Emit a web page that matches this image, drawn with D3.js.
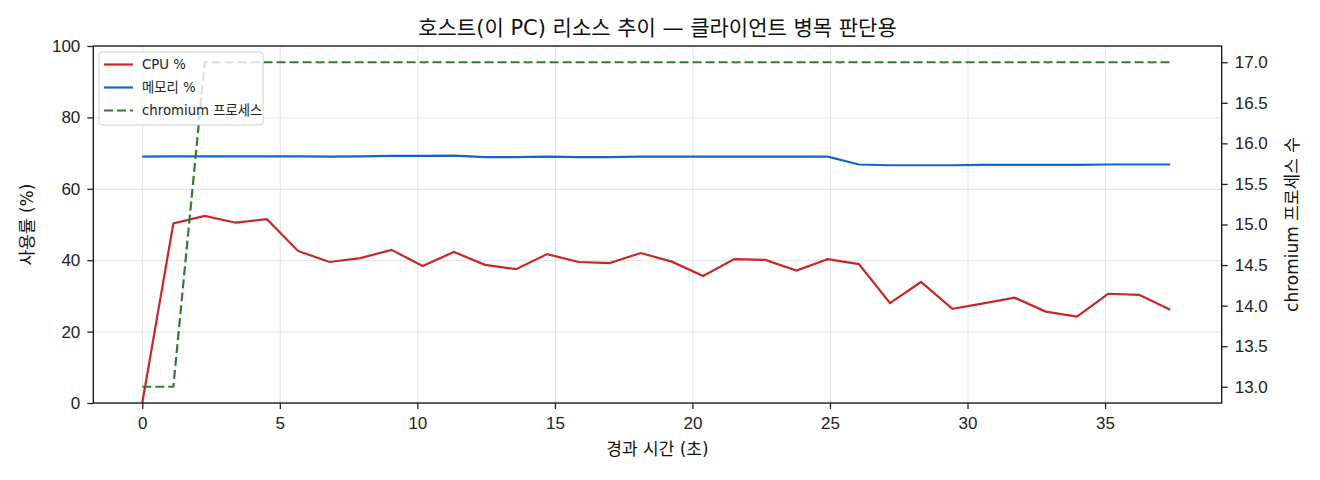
<!DOCTYPE html>
<html>
<head>
<meta charset="utf-8">
<script src="https://d3js.org/d3.v7.min.js"></script>
<style>
body { margin: 0; background: #fff; }
svg { display: block; font-family: "DejaVu Sans", "Noto Sans CJK KR", sans-serif; }
.tick text { font-size: 17px; fill: #222; }
.tick line { stroke: #222; stroke-width: 1.3; }
.domain { stroke: none; }
.grid line { stroke: #e2e2e2; stroke-width: 1; }
.grid .domain { display: none; }
</style>
</head>
<body>
<svg width="1320" height="480"></svg>
<script>
// elapsed seconds for every sample
const times = [0, 1.13, 2.27, 3.40, 4.53, 5.66, 6.80, 7.93, 9.06, 10.19,
  11.33, 12.46, 13.59, 14.72, 15.86, 16.99, 18.12, 19.25, 20.39, 21.52,
  22.65, 23.78, 24.92, 26.05, 27.18, 28.31, 29.45, 30.58, 31.71, 32.84,
  33.98, 35.11, 36.24, 37.37];

const cpu = [0, 50.3, 52.4, 50.5, 51.5, 42.6, 39.5, 40.6, 42.9, 38.4,
  42.3, 38.7, 37.5, 41.7, 39.5, 39.2, 42.0, 39.6, 35.6, 40.3,
  40.1, 37.1, 40.3, 38.9, 28.0, 33.9, 26.4, 27.9, 29.5, 25.6,
  24.2, 30.6, 30.3, 26.1];

const memory = [69.0, 69.1, 69.1, 69.1, 69.1, 69.1, 69.0, 69.1, 69.2, 69.2,
  69.3, 68.9, 68.9, 69.0, 68.9, 68.9, 69.0, 69.0, 69.0, 69.0,
  69.0, 69.0, 69.0, 66.8, 66.6, 66.6, 66.6, 66.7, 66.7, 66.7,
  66.7, 66.8, 66.8, 66.8];

const chromium = [13, 13, 17, 17, 17, 17, 17, 17, 17, 17,
  17, 17, 17, 17, 17, 17, 17, 17, 17, 17,
  17, 17, 17, 17, 17, 17, 17, 17, 17, 17,
  17, 17, 17, 17];

const xTicks = [0, 5, 10, 15, 20, 25, 30, 35];
const leftTicks = [0, 20, 40, 60, 80, 100];
const rightTicks = [13.0, 13.5, 14.0, 14.5, 15.0, 15.5, 16.0, 16.5, 17.0];

const seriesNames = ['CPU %', '메모리 %', 'chromium 프로세스'];
const colors = ['#c62828', '#1565c0', '#2e7d32'];

const pLeft = 93.3, pRight = 1221.7, pTop = 46, pBottom = 403;

const svg = d3.select('svg');

const x = d3.scaleLinear().domain([-1.78, 39.24]).range([pLeft, pRight]);
const y = d3.scaleLinear().domain([0, 100]).range([pBottom, pTop]);
const y2 = d3.scaleLinear().domain([12.8, 17.2]).range([pBottom, pTop]);

// grid
svg.append('g').attr('class', 'grid')
  .attr('transform', `translate(0,${pBottom})`)
  .call(d3.axisBottom(x).tickValues(xTicks).tickSize(-(pBottom - pTop)).tickFormat(''));
svg.append('g').attr('class', 'grid')
  .attr('transform', `translate(${pLeft},0)`)
  .call(d3.axisLeft(y).tickValues(leftTicks).tickSize(-(pRight - pLeft)).tickFormat(''));

const line = (yScale, vals) => d3.line()
  .x((d, i) => x(times[i]))
  .y(d => yScale(d))(vals);

const plot = svg.append('g');
plot.append('path').attr('d', line(y, cpu))
  .attr('fill', 'none').attr('stroke', colors[0]).attr('stroke-width', 2.2);
plot.append('path').attr('d', line(y, memory))
  .attr('fill', 'none').attr('stroke', colors[1]).attr('stroke-width', 2.2);
plot.append('path').attr('d', line(y2, chromium))
  .attr('fill', 'none').attr('stroke', colors[2]).attr('stroke-width', 2.2)
  .attr('stroke-dasharray', '9,4');

// frame
svg.append('rect')
  .attr('x', pLeft).attr('y', pTop)
  .attr('width', pRight - pLeft).attr('height', pBottom - pTop)
  .attr('fill', 'none').attr('stroke', '#111').attr('stroke-width', 1.3);

// axes
svg.append('g')
  .attr('transform', `translate(0,${pBottom})`)
  .call(d3.axisBottom(x).tickValues(xTicks).tickSize(6).tickPadding(8));
svg.append('g')
  .attr('transform', `translate(${pLeft},0)`)
  .call(d3.axisLeft(y).tickValues(leftTicks).tickSize(6).tickPadding(7));
svg.append('g')
  .attr('transform', `translate(${pRight},0)`)
  .call(d3.axisRight(y2).tickValues(rightTicks).tickFormat(d3.format('.1f')).tickSize(6).tickPadding(7));

// title and labels
svg.append('text')
  .attr('x', (pLeft + pRight) / 2).attr('y', 35)
  .attr('text-anchor', 'middle').attr('font-size', 21).attr('fill', '#111')
  .text('호스트(이 PC) 리소스 추이 — 클라이언트 병목 판단용');
svg.append('text')
  .attr('x', (pLeft + pRight) / 2).attr('y', 455)
  .attr('text-anchor', 'middle').attr('font-size', 17).attr('fill', '#111')
  .text('경과 시간 (초)');
svg.append('text')
  .attr('transform', `translate(33,${(pTop + pBottom) / 2}) rotate(-90)`)
  .attr('text-anchor', 'middle').attr('font-size', 17).attr('fill', '#111')
  .text('사용률 (%)');
svg.append('text')
  .attr('transform', `translate(1298,${(pTop + pBottom) / 2}) rotate(-90)`)
  .attr('text-anchor', 'middle').attr('font-size', 17).attr('fill', '#111')
  .text('chromium 프로세스 수');

// legend
const legend = svg.append('g').attr('transform', 'translate(99,52)');
legend.append('rect')
  .attr('width', 164).attr('height', 73).attr('rx', 3)
  .attr('fill', 'rgba(255,255,255,0.8)').attr('stroke', '#d0d0d0');
const item = legend.selectAll('g.item').data(seriesNames).enter()
  .append('g').attr('class', 'item')
  .attr('transform', (d, i) => `translate(0,${12.5 + i * 23})`);
item.append('line')
  .attr('x1', 5).attr('x2', 34)
  .attr('stroke', (d, i) => colors[i]).attr('stroke-width', 2.2)
  .attr('stroke-dasharray', (d, i) => i === 2 ? '9,4' : null);
item.append('text')
  .attr('x', 43).attr('dy', '0.35em')
  .attr('font-size', 13.3).attr('fill', '#222')
  .text(d => d);
</script>
</body>
</html>
